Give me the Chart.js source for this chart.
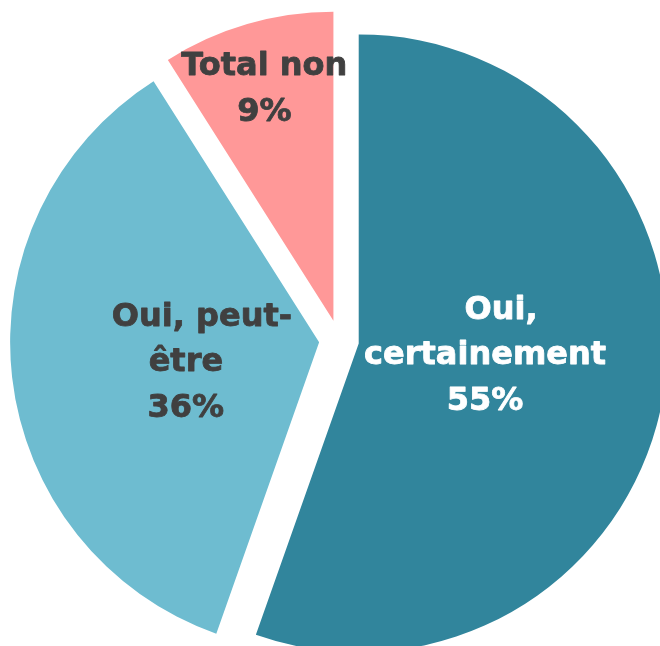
<!DOCTYPE html>
<html>
<head>
<meta charset="utf-8">
<script src="https://cdn.jsdelivr.net/npm/chart.js@4.4.1/dist/chart.umd.min.js"></script>
<style>
  html, body { margin: 0; padding: 0; background: #ffffff; }
  #wrap { width: 660px; height: 646px; }
</style>
</head>
<body>
<div id="wrap"><canvas id="c" width="660" height="646"></canvas></div>
<script>
// ---- data ----
const categories = ['Oui, certainement', 'Oui, peut-être', 'Total non'];
const values = [55.4, 35.6, 9.0];
const labelLines = [
  ['Oui,', 'certainement', '55%'],
  ['Oui, peut-', 'être', '36%'],
  ['Total non', '9%']
];
const sliceColors = ['#31859c', '#6ebcd0', '#ff9898'];
const labelColors = ['#ffffff', '#404040', '#404040'];

// ---- layout / style ----
const RADIUS = 309;
const EXPLODE = 20;            // slice pull-out distance in px
const FONT_SIZE = 32;
const LINE_H = 45.5;
const labelPlace = [
  { f: 0.41,  dx: 1.5, dy: -12, firstDx: 16 },
  { f: 0.434, dx: 0,   dy: 2,   firstDx: 16 },
  { f: 0.79,  dx: -1,  dy: 0,   firstDx: 0 }
];

// pull each slice out along its bisector (keeps radius and angles unchanged)
const explode = {
  id: 'explode',
  afterDatasetUpdate(chart, args) {
    const meta = chart.getDatasetMeta(args.index);
    meta.data.forEach(arc => {
      const mid = (arc.startAngle + arc.endAngle) / 2;
      arc.x += Math.cos(mid) * EXPLODE;
      arc.y += Math.sin(mid) * EXPLODE;
    });
  }
};

const sliceLabels = {
  id: 'sliceLabels',
  afterDatasetsDraw(chart) {
    const ctx = chart.ctx;
    const meta = chart.getDatasetMeta(0);
    ctx.save();
    ctx.font = 'bold ' + FONT_SIZE + 'px "DejaVu Sans", sans-serif';
    ctx.textAlign = 'center';
    ctx.textBaseline = 'alphabetic';
    ctx.lineJoin = 'round';
    ctx.lineWidth = 0.8;
    const capH = FONT_SIZE * 0.73;
    meta.data.forEach((arc, i) => {
      const mid = (arc.startAngle + arc.endAngle) / 2;
      const p = labelPlace[i];
      const d = p.f * RADIUS;
      const ax = arc.x + Math.cos(mid) * d + p.dx;
      const ay = arc.y + Math.sin(mid) * d + p.dy;
      const lines = labelLines[i];
      const n = lines.length;
      ctx.fillStyle = labelColors[i];
      ctx.strokeStyle = labelColors[i];
      lines.forEach((t, k) => {
        const by = ay + (k - (n - 1) / 2) * LINE_H + capH / 2;
        const bx = ax + (k === 0 && n > 2 ? p.firstDx : 0);
        ctx.fillText(t, bx, by);
        ctx.strokeText(t, bx, by);
      });
    });
    ctx.restore();
  }
};

new Chart(document.getElementById('c'), {
  type: 'pie',
  data: {
    labels: categories,
    datasets: [{
      data: values,
      backgroundColor: sliceColors,
      borderWidth: 0,
      offset: 0,
      hoverOffset: 0
    }]
  },
  options: {
    responsive: false,
    animation: false,
    radius: RADIUS,
    layout: { padding: { left: 18, top: 34, right: 0, bottom: 0 } },
    plugins: {
      legend: { display: false },
      tooltip: { enabled: false }
    },
    events: []
  },
  plugins: [explode, sliceLabels]
});
</script>
</body>
</html>
